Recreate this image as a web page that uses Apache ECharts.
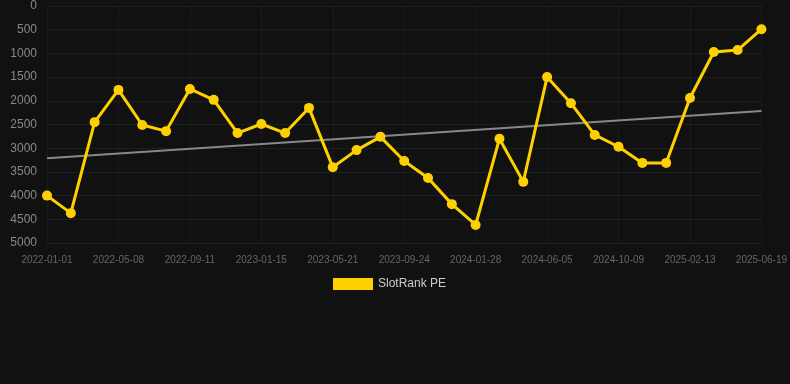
<!DOCTYPE html>
<html><head><meta charset="utf-8">
<script src="https://cdn.jsdelivr.net/npm/echarts@6/dist/echarts.min.js"></script>
<style>html,body{margin:0;padding:0;background:#111111;}#c{width:790px;height:384px;}</style>
</head><body><div id="c"></div>
<script>
const categories = ['2022-01-01','2022-02-12','2022-03-26','2022-05-08','2022-06-19','2022-07-31','2022-09-11','2022-10-23','2022-12-04','2023-01-15','2023-02-26','2023-04-09','2023-05-21','2023-07-02','2023-08-13','2023-09-24','2023-11-05','2023-12-17','2024-01-28','2024-03-10','2024-04-21','2024-06-05','2024-07-17','2024-08-28','2024-10-09','2024-11-20','2025-01-01','2025-02-13','2025-03-27','2025-05-08','2025-06-19'];
const rankValues = [4000,4370,2450,1770,2510,2640,1750,1980,2680,2490,2680,2150,3400,3040,2760,3270,3630,4180,4620,2800,3710,1500,2050,2720,2970,3310,3310,1940,970,930,490];
const trendStart = 3210;
const trendEnd = 2215;
const yTicks = {min: 0, max: 5000, interval: 500};

const trendData = categories.map((c, i) => i === 0 ? trendStart : (i === categories.length - 1 ? trendEnd : null));

const chart = echarts.init(document.getElementById('c'));
chart.setOption({
  backgroundColor: '#111111',
  animation: false,
  grid: {left: 47, right: 28, top: 6, bottom: 141, containLabel: false},
  legend: {
    data: ['SlotRank PE'], top: 273, left: 328,
    itemWidth: 40, itemHeight: 12, icon: 'rect',
    textStyle: {color: '#cccccc', fontSize: 12, fontFamily: 'Arial, Liberation Sans, sans-serif'}
  },
  xAxis: {
    type: 'category', data: categories, boundaryGap: false,
    axisLine: {show: false},
    axisTick: {show: true, interval: 2, lineStyle: {color: '#1c1c1c'}},
    axisLabel: {interval: 2, color: '#666', fontSize: 10, margin: 12, fontFamily: 'Arial, Liberation Sans, sans-serif'},
    splitLine: {show: true, interval: 2, lineStyle: {color: '#1a1a1a'}}
  },
  yAxis: {
    type: 'value', inverse: true, min: yTicks.min, max: yTicks.max, interval: yTicks.interval,
    axisLine: {show: false}, axisTick: {show: false},
    axisLabel: {color: '#888', fontSize: 12, margin: 10, formatter: v => String(v), fontFamily: 'Arial, Liberation Sans, sans-serif'},
    splitLine: {show: true, lineStyle: {color: '#1e1e1e'}}
  },
  series: [
    {
      name: 'Trend', type: 'line', data: trendData, connectNulls: true,
      symbol: 'none', lineStyle: {color: '#888888', width: 2}, z: 1, silent: true
    },
    {
      name: 'SlotRank PE', type: 'line', data: rankValues,
      symbol: 'circle', symbolSize: 10,
      itemStyle: {color: '#FFD000'},
      lineStyle: {color: '#FFD000', width: 3}, z: 2
    }
  ]
});
</script></body></html>
